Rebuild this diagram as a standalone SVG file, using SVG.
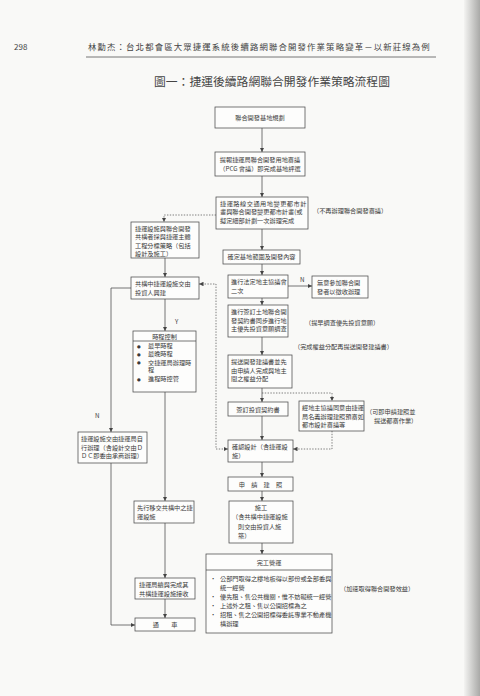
<svg xmlns="http://www.w3.org/2000/svg" width="480" height="696" viewBox="0 0 480 696">
<defs>
<style>
.bg{fill:#f9f9f7}
.b{fill:#fdfdfc;stroke:#4a4a4a;stroke-width:.75}
.t{font-family:"Noto Sans CJK TC","Noto Sans",sans-serif;font-size:6.2px;fill:#3a3a3a}
.c{text-anchor:middle}
.l{fill:none;stroke:#4a4a4a;stroke-width:.75}
.d{fill:none;stroke:#555;stroke-width:.75;stroke-dasharray:1.4 1.4}
.h{font-family:"Noto Sans CJK TC","Noto Sans",sans-serif;fill:#444}
.bu{font-family:"DejaVu Sans",sans-serif;font-size:4.2px;fill:#3a3a3a}
</style>
<marker id="a" viewBox="0 0 6 6" refX="6" refY="3" markerWidth="4.5" markerHeight="4.5" orient="auto-start-reverse" markerUnits="userSpaceOnUse">
<path d="M0 0 L6 3 L0 6 Z" fill="#444"/>
</marker>
<linearGradient id="edge" x1="0" x2="1" y1="0" y2="0">
<stop offset="0" stop-color="#f4f4f2"/>
<stop offset="1" stop-color="#a9a9a7"/>
</linearGradient>
</defs>
<rect class="bg" x="0" y="0" width="480" height="696"/>
<rect x="464" y="0" width="16" height="696" fill="url(#edge)"/>

<g id="header">
<text class="h" x="14" y="50" font-size="8">298</text>
<text class="h" x="88" y="50" font-size="8.4" letter-spacing="1.15">林勳杰：台北都會區大眾捷運系統後續路網聯合開發作業策略變革－以新莊線為例</text>
<line x1="86" y1="57" x2="436" y2="57" stroke="#555" stroke-width=".8"/>
<text class="h" x="272" y="86" font-size="11.8" text-anchor="middle" fill="#333">圖一：捷運後續路網聯合開發作業策略流程圖</text>
</g>

<g id="connectors">
<path class="l" d="M262 128 V152" marker-end="url(#a)"/>
<path class="l" d="M262 176 V197" marker-end="url(#a)"/>
<path class="d" d="M216 215 H164 V222" marker-end="url(#a)"/>
<path class="l" d="M262 229 V250" marker-end="url(#a)"/>
<path class="l" d="M165 258 V277" marker-end="url(#a)"/>
<path class="l" d="M262 264 V275" marker-end="url(#a)"/>
<path class="l" d="M288 286 H312" marker-end="url(#a)"/>
<path class="l" d="M262 298 V305" marker-end="url(#a)"/>
<path class="l" d="M262 337 V355" marker-end="url(#a)"/>
<path class="l" d="M262 388 V402" marker-end="url(#a)"/>
<path class="d" d="M262 393 H332 V401" marker-end="url(#a)"/>
<path class="l" d="M262 416 V440" marker-end="url(#a)"/>
<path class="d" d="M332 431 V449 H293" marker-end="url(#a)"/>
<path class="d" d="M199 284 H216 V449 H228" marker-start="url(#a)" marker-end="url(#a)"/>
<path class="l" d="M262 462 V477" marker-end="url(#a)"/>
<path class="l" d="M262 491 V501" marker-end="url(#a)"/>
<path class="l" d="M262 543 V554" marker-end="url(#a)"/>
<path class="l" d="M165 299 V331" marker-end="url(#a)"/>
<path class="l" d="M165 392 V501" marker-end="url(#a)"/>
<path class="l" d="M165 523 V578" marker-end="url(#a)"/>
<path class="l" d="M165 599 V618" marker-end="url(#a)"/>
<path class="l" d="M131 288 H111 V432" marker-end="url(#a)"/>
<path class="l" d="M111 463 V625 H135" marker-end="url(#a)"/>
<text class="t" x="300" y="282" font-size="5.5">N</text>
<text class="t" x="175" y="324" font-size="5.5">Y</text>
<text class="t" x="95" y="418" font-size="5.5">N</text>
</g>

<g id="n1"><rect class="b" x="215" y="107" width="90" height="21"/>
<text class="t c" x="260" y="119.5">聯合開發基地規劃</text></g>

<g id="n2"><rect class="b" x="215" y="152" width="90" height="24"/>
<text class="t c" x="260" y="162">提報捷運局聯合開發用地審議</text>
<text class="t c" x="260" y="171">（PCG 會議）即完成基地評選</text></g>

<g id="n3"><rect class="b" x="216" y="197" width="92" height="32"/>
<text class="t" x="220" y="205.5" letter-spacing=".5">捷運路線交通用地變更都市計</text>
<text class="t" x="220" y="214">畫與聯合開發變更都市計畫(或</text>
<text class="t" x="220" y="222.5">擬定細部計劃一次辦理完成</text></g>
<text class="t" x="313" y="212.5">（不再辦理聯合開發審議）</text>

<g id="n4"><rect class="b" x="131" y="222" width="68" height="36"/>
<text class="t" x="135" y="230.5">捷運設施與聯合開發</text>
<text class="t" x="135" y="239">共構者採與捷運主體</text>
<text class="t" x="135" y="247.5">工程分標策略（包括</text>
<text class="t" x="135" y="256">設計及施工）</text></g>

<g id="n5"><rect class="b" x="223" y="250" width="77" height="14"/>
<text class="t c" x="261.5" y="259.3">確定基地範圍及開發內容</text></g>

<g id="n6"><rect class="b" x="131" y="277" width="68" height="22"/>
<text class="t" x="135" y="285.5">共構中捷運設施交由</text>
<text class="t" x="135" y="294.5">投資人興建</text></g>

<g id="n7"><rect class="b" x="228" y="275" width="60" height="23"/>
<text class="t" x="231" y="284">進行法定地主協議會</text>
<text class="t" x="231" y="293">二次</text></g>

<g id="n8"><rect class="b" x="312" y="276" width="56" height="22"/>
<text class="t" x="317" y="284.5">無意參加聯合開</text>
<text class="t" x="317" y="293.5">發者以徵收辦理</text></g>

<g id="n9"><rect class="b" x="228" y="305" width="60" height="32"/>
<text class="t" x="231" y="314">進行簽訂土地聯合開</text>
<text class="t" x="231" y="322.5">發契約書同步進行地</text>
<text class="t" x="231" y="331">主優先投資意願調查</text></g>
<text class="t" x="305" y="325">（提早調查優先投資意願）</text>
<text class="t" x="294" y="348.5">（完成權益分配再提送開發建議書）</text>

<g id="n10"><rect class="b" x="228" y="355" width="64" height="33"/>
<text class="t" x="231" y="364">提送開發建議書並先</text>
<text class="t" x="231" y="372.5">由申請人完成與地主</text>
<text class="t" x="231" y="381">間之權益分配</text></g>

<g id="n11"><rect class="b" x="133" y="331" width="63" height="61"/>
<line class="l" x1="133" y1="341" x2="196" y2="341"/>
<text class="t c" x="164.5" y="338.5">時程控制</text>
<text class="bu" x="137" y="347.5">●</text><text class="t" x="148" y="348">最早時程</text>
<text class="bu" x="137" y="355.5">●</text><text class="t" x="148" y="356">最晚時程</text>
<text class="bu" x="137" y="364">●</text><text class="t" x="148" y="364.5">交捷運局辦理時</text>
<text class="t" x="148" y="372">程</text>
<text class="bu" x="137" y="380.5">●</text><text class="t" x="148" y="381">進程時控管</text></g>

<g id="n12"><rect class="b" x="228" y="402" width="60" height="14"/>
<text class="t c" x="258" y="411.5">簽訂投資契約書</text></g>

<g id="n13"><rect class="b" x="299" y="401" width="65" height="30"/>
<text class="t" x="302" y="410">經地主協議同意由捷運</text>
<text class="t" x="302" y="418.5">局名義辦理建照預審如</text>
<text class="t" x="302" y="427">都市設計審議等</text></g>
<text class="t" x="366" y="414">（可即申請建照並</text>
<text class="t" x="374" y="423">提送都審作業）</text>

<g id="n14"><rect class="b" x="78" y="432" width="69" height="31"/>
<text class="t" x="81" y="441">捷運設施交由捷運局自</text>
<text class="t" x="81" y="449.5">行辦理（含設計交由Ｄ</text>
<text class="t" x="81" y="458">ＤＣ即委由承商辦理）</text></g>

<g id="n15"><rect class="b" x="228" y="440" width="65" height="22"/>
<text class="t" x="232" y="448.5">確認設計（含捷運設</text>
<text class="t" x="232" y="457.5">施）</text></g>

<g id="n16"><rect class="b" x="228" y="477" width="65" height="14"/>
<text class="t c" x="260.5" y="486.5">申　請　建　照</text></g>

<g id="n17"><rect class="b" x="229" y="501" width="64" height="42"/>
<text class="t c" x="261" y="509.5">施工</text>
<text class="t" x="232" y="519">（含共構中捷運設施</text>
<text class="t" x="238" y="528.5">則交由投資人施</text>
<text class="t" x="238" y="538">築）</text></g>

<g id="n18"><rect class="b" x="134" y="501" width="60" height="22"/>
<text class="t" x="137" y="510">先行移交共構中之捷</text>
<text class="t" x="137" y="519">運設施</text></g>

<g id="n19"><rect class="b" x="206" y="554" width="126" height="79"/>
<line class="l" x1="206" y1="570" x2="332" y2="570"/>
<text class="t c" x="269" y="564.5">完工營運</text>
<text class="t" x="210" y="581">•</text><text class="t" x="220" y="581">公部門取得之樓地板得以部份或全部委與</text>
<text class="t" x="220" y="589.5">統一經營</text>
<text class="t" x="210" y="599">•</text><text class="t" x="220" y="599">優先租、售公共機關，惟不妨礙統一經營</text>
<text class="t" x="210" y="608">•</text><text class="t" x="220" y="608">上述外之租、售以公開招標為之</text>
<text class="t" x="210" y="617">•</text><text class="t" x="220" y="617">招租、售之公開招標得委託專業不動產機</text>
<text class="t" x="220" y="625.5">構辦理</text></g>
<text class="t" x="340" y="591">（加速取得聯合開發效益）</text>

<g id="n20"><rect class="b" x="135" y="578" width="60" height="21"/>
<text class="t" x="139" y="587">捷運局續與完成其</text>
<text class="t" x="139" y="596">共構捷運設施接收</text></g>

<g id="n21"><rect class="b" x="135" y="618" width="60" height="13"/>
<text class="t c" x="165" y="627">通　　車</text></g>
</svg>
